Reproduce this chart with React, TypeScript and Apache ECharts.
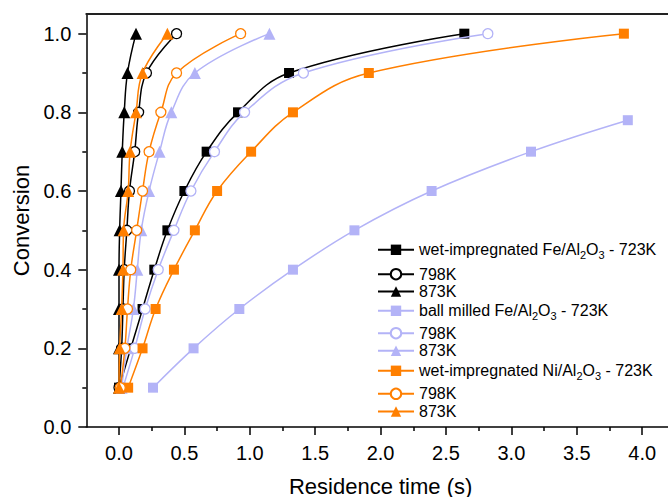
import React, { useEffect, useRef } from "react";
import * as echarts from "echarts";

// ---- data ----
const conversion = [0.1, 0.2, 0.3, 0.4, 0.5, 0.6, 0.7, 0.8, 0.9, 1.0];
const conversionBall723 = [0.1, 0.2, 0.3, 0.4, 0.5, 0.6, 0.7, 0.78];

const wetFe723 = [0.0, 0.09, 0.18, 0.27, 0.37, 0.5, 0.67, 0.91, 1.3, 2.64];
const wetFe798 = [0.0, 0.02, 0.03, 0.04, 0.06, 0.08, 0.12, 0.15, 0.21, 0.44];
const wetFe873 = [0.0, 0.0, 0.0, 0.0, 0.005, 0.015, 0.025, 0.04, 0.065, 0.13];
const ballFe723 = [0.26, 0.57, 0.92, 1.33, 1.8, 2.39, 3.15, 3.89];
const ballFe798 = [0.03, 0.12, 0.2, 0.3, 0.42, 0.55, 0.73, 0.96, 1.41, 2.82];
const ballFe873 = [0.02, 0.06, 0.11, 0.14, 0.17, 0.23, 0.31, 0.4, 0.58, 1.15];
const wetNi723 = [0.07, 0.18, 0.28, 0.42, 0.58, 0.75, 1.01, 1.33, 1.91, 3.86];
const wetNi798 = [0.01, 0.045, 0.065, 0.09, 0.135, 0.18, 0.23, 0.32, 0.44, 0.93];
const wetNi873 = [0.0, 0.005, 0.02, 0.03, 0.035, 0.07, 0.085, 0.13, 0.18, 0.37];

const xTicks = [0, 0.5, 1.0, 1.5, 2.0, 2.5, 3.0, 3.5, 4.0];
const xMinorTicks = [0.25, 0.75, 1.25, 1.75, 2.25, 2.75, 3.25, 3.75];
const yTicks = [0, 0.2, 0.4, 0.6, 0.8, 1.0];
const yMinorTicks = [0.1, 0.3, 0.5, 0.7, 0.9];

const seriesNames = [
  "wet Fe 723K",
  "wet Fe 798K",
  "wet Fe 873K",
  "ball Fe 723K",
  "ball Fe 798K",
  "ball Fe 873K",
  "wet Ni 723K",
  "wet Ni 798K",
  "wet Ni 873K",
];
const legendLabels = [
  "{a|wet-impregnated Fe/Al}{s|2}{a|O}{s|3}{a| - 723K}",
  "798K",
  "873K",
  "{a|ball milled Fe/Al}{s|2}{a|O}{s|3}{a| - 723K}",
  "798K",
  "873K",
  "{a|wet-impregnated Ni/Al}{s|2}{a|O}{s|3}{a| - 723K}",
  "798K",
  "873K",
];

const BLACK = "#000000";
const LILAC = "#b3b3f7";
const ORANGE = "#ff7f00";
const FONT = "'Liberation Sans', Arial, sans-serif";

const pairs = (xs: number[], ys: number[]) => xs.map((x, i) => [x, ys[i]]);

export default function App() {
  const ref = useRef<HTMLDivElement>(null);
  useEffect(() => {
    document.body.style.margin = "0";
    const chart = echarts.init(ref.current!, undefined, { renderer: "svg" });

    const defs = [
      { data: pairs(wetFe723, conversion), color: BLACK, symbol: "rect", hollow: false },
      { data: pairs(wetFe798, conversion), color: BLACK, symbol: "circle", hollow: true },
      { data: pairs(wetFe873, conversion), color: BLACK, symbol: "triangle", hollow: false },
      { data: pairs(ballFe723, conversionBall723), color: LILAC, symbol: "rect", hollow: false },
      { data: pairs(ballFe798, conversion), color: LILAC, symbol: "circle", hollow: true },
      { data: pairs(ballFe873, conversion), color: LILAC, symbol: "triangle", hollow: false },
      { data: pairs(wetNi723, conversion), color: ORANGE, symbol: "rect", hollow: false },
      { data: pairs(wetNi798, conversion), color: ORANGE, symbol: "circle", hollow: true },
      { data: pairs(wetNi873, conversion), color: ORANGE, symbol: "triangle", hollow: false },
    ];

    const series = defs.map((d, i) => ({
      type: "line",
      name: seriesNames[i],
      xAxisIndex: 0,
      yAxisIndex: 0,
      data: d.data,
      smooth: 0.4,
      symbol: d.symbol,
      symbolSize: d.symbol === "triangle" ? 12 : 10,
      lineStyle: { color: d.color, width: 1.5 },
      itemStyle: d.hollow
        ? { color: "#ffffff", borderColor: d.color, borderWidth: 1.3 }
        : { color: d.color, borderWidth: 0 },
      emphasis: { disabled: true },
      z: 2 + i,
    }));

    const legendCenters = [248.3, 272.7, 290, 309.3, 331.7, 349.3, 369.3, 392.3, 410];
    const ITEM_H = 13;
    const legends = seriesNames.map((n, i) => {
      const rich = legendLabels[i].startsWith("{");
      return {
        show: true,
        data: [n],
        left: 377,
        top: legendCenters[i] - ITEM_H / 2,
        padding: 0,
        itemWidth: 36,
        itemHeight: ITEM_H,
        selectedMode: false,
        formatter: legendLabels[i],
        textStyle: rich
          ? {
              fontFamily: FONT,
              fontSize: 16,
              color: "#000",
              rich: {
                a: { fontFamily: FONT, fontSize: 16, lineHeight: 22, color: "#000" },
                s: { fontFamily: FONT, fontSize: 11, lineHeight: 10, verticalAlign: "bottom", color: "#000" },
              },
            }
          : { fontFamily: FONT, fontSize: 16, lineHeight: 16, color: "#000" },
      };
    });

    const xMin = -0.25;
    const xMax = 4.25;
    const option: any = {
      animation: false,
      backgroundColor: "#ffffff",
      grid: { left: 86.3, top: 14, right: -6.9, bottom: 70, outerBoundsMode: "none" },
      legend: legends,
      xAxis: [
        {
          type: "value",
          min: xMin,
          max: xMax,
          position: "bottom",
          name: "Residence time (s)",
          nameLocation: "middle",
          nameGap: 48,
          nameTextStyle: { fontFamily: FONT, fontSize: 22, lineHeight: 22, color: "#000" },
          axisLine: { show: true, onZero: false, lineStyle: { color: "#000", width: 1.5 } },
          axisTick: { show: true, inside: false, length: 8, customValues: xTicks, lineStyle: { color: "#000", width: 1.5 } },
          axisLabel: {
            show: true,
            customValues: xTicks,
            margin: 16,
            fontFamily: FONT,
            fontSize: 20,
            lineHeight: 20,
            color: "#000",
            formatter: (v: number) => v.toFixed(1),
          },
          splitLine: { show: false },
        },
        {
          type: "value",
          min: xMin,
          max: xMax,
          position: "bottom",
          axisLine: { show: false, onZero: false },
          axisTick: { show: true, length: 4, customValues: xMinorTicks, lineStyle: { color: "#000", width: 1.5 } },
          axisLabel: { show: false },
          splitLine: { show: false },
        },
        {
          type: "value",
          min: xMin,
          max: xMax,
          position: "top",
          axisLine: { show: true, onZero: false, lineStyle: { color: "#222", width: 2 } },
          axisTick: { show: false },
          axisLabel: { show: false },
          splitLine: { show: false },
        },
      ],
      yAxis: [
        {
          type: "value",
          min: 0,
          max: 1.05,
          position: "left",
          name: "Conversion",
          nameLocation: "middle",
          nameGap: 52,
          nameTextStyle: { fontFamily: FONT, fontSize: 22, lineHeight: 22, color: "#000" },
          axisLine: { show: true, onZero: false, lineStyle: { color: "#000", width: 1.5 } },
          axisTick: { show: true, length: 8, customValues: yTicks, lineStyle: { color: "#000", width: 1.5 } },
          axisLabel: {
            show: true,
            customValues: yTicks,
            margin: 15,
            fontFamily: FONT,
            fontSize: 20,
            color: "#000",
            formatter: (v: number) => v.toFixed(1),
          },
          splitLine: { show: false },
        },
        {
          type: "value",
          min: 0,
          max: 1.05,
          position: "left",
          axisLine: { show: false, onZero: false },
          axisTick: { show: true, length: 4, customValues: yMinorTicks, lineStyle: { color: "#000", width: 1.5 } },
          axisLabel: { show: false },
          splitLine: { show: false },
        },
      ],
      series,
    };
    chart.setOption(option);
    return () => chart.dispose();
  }, []);

  return (
    <div
      ref={ref}
      style={{ position: "absolute", left: 0, top: 0, width: 668, height: 497 }}
    />
  );
}
